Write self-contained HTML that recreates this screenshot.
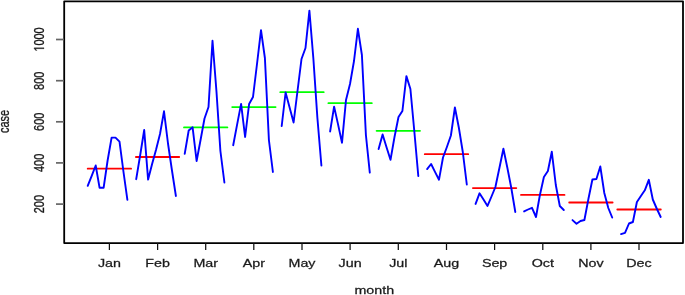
<!DOCTYPE html>
<html><head><meta charset="utf-8"><style>
html,body{margin:0;padding:0;background:#fff;}
svg{display:block;filter:blur(0.4px);}
text{font-family:"Liberation Sans",sans-serif;font-size:11px;fill:#1a1a1a;stroke:#1a1a1a;stroke-width:0.25px;}
</style></head><body>
<svg width="685" height="295" viewBox="0 0 685 295">
<rect x="0" y="0" width="685" height="295" fill="#fff"/>
<line x1="87.7" y1="168.7" x2="131.1" y2="168.7" stroke="#ff0000" stroke-width="1.8" stroke-linecap="round"/>
<line x1="135.9" y1="157" x2="179.2" y2="157" stroke="#ff0000" stroke-width="1.8" stroke-linecap="round"/>
<line x1="184.0" y1="127.4" x2="227.4" y2="127.4" stroke="#00ff00" stroke-width="1.8" stroke-linecap="round"/>
<line x1="232.2" y1="107.1" x2="275.6" y2="107.1" stroke="#00ff00" stroke-width="1.8" stroke-linecap="round"/>
<line x1="280.3" y1="92.2" x2="323.7" y2="92.2" stroke="#00ff00" stroke-width="1.8" stroke-linecap="round"/>
<line x1="328.4" y1="103.2" x2="371.8" y2="103.2" stroke="#00ff00" stroke-width="1.8" stroke-linecap="round"/>
<line x1="376.6" y1="130.8" x2="420.0" y2="130.8" stroke="#00ff00" stroke-width="1.8" stroke-linecap="round"/>
<line x1="424.8" y1="154.2" x2="468.2" y2="154.2" stroke="#ff0000" stroke-width="1.8" stroke-linecap="round"/>
<line x1="472.9" y1="188.1" x2="516.3" y2="188.1" stroke="#ff0000" stroke-width="1.8" stroke-linecap="round"/>
<line x1="521.0" y1="194.9" x2="564.5" y2="194.9" stroke="#ff0000" stroke-width="1.8" stroke-linecap="round"/>
<line x1="569.2" y1="202.5" x2="612.6" y2="202.5" stroke="#ff0000" stroke-width="1.8" stroke-linecap="round"/>
<line x1="617.3" y1="209.5" x2="660.8" y2="209.5" stroke="#ff0000" stroke-width="1.8" stroke-linecap="round"/>
<polyline points="87.7,185.8 91.7,175.8 95.7,165.5 99.6,187.8 103.6,187.8 107.6,160.5 111.6,137.6 115.5,137.6 119.5,141.6 123.5,172 127.4,199.8" fill="none" stroke="#0000ff" stroke-width="1.9" stroke-linejoin="round" stroke-linecap="round"/>
<polyline points="136.2,179.2 140.2,155 144.2,130 148.1,179.6 152.1,164 156.1,149.5 160.0,134 164.0,111.3 168.0,143.5 171.9,170 175.9,196" fill="none" stroke="#0000ff" stroke-width="1.9" stroke-linejoin="round" stroke-linecap="round"/>
<polyline points="184.7,153.8 188.7,130.5 192.6,127.3 196.6,161 200.6,139.7 204.5,118.5 208.5,107 212.5,40.7 216.5,92 220.4,151 224.4,182.5" fill="none" stroke="#0000ff" stroke-width="1.9" stroke-linejoin="round" stroke-linecap="round"/>
<polyline points="233.2,145.2 237.1,124.6 241.1,103.9 245.1,137 249.1,104 253.0,97 257.0,64 261.0,30.1 264.9,58 268.9,140 272.9,172" fill="none" stroke="#0000ff" stroke-width="1.9" stroke-linejoin="round" stroke-linecap="round"/>
<polyline points="281.7,126 285.6,92.5 289.6,107.5 293.6,122.5 297.5,91 301.5,59 305.5,48 309.4,10.7 313.4,59 317.4,118 321.4,165.5" fill="none" stroke="#0000ff" stroke-width="1.9" stroke-linejoin="round" stroke-linecap="round"/>
<polyline points="330.1,131.5 334.1,106.6 338.1,124.6 342.0,142.7 346.0,100 350.0,84 354.0,61 357.9,28.8 361.9,55 365.9,135 369.8,172.6" fill="none" stroke="#0000ff" stroke-width="1.9" stroke-linejoin="round" stroke-linecap="round"/>
<polyline points="378.6,149.1 382.6,134.5 386.6,147.5 390.5,159.8 394.5,137 398.5,117 402.4,111 406.4,76.1 410.4,89 414.3,131 418.3,176" fill="none" stroke="#0000ff" stroke-width="1.9" stroke-linejoin="round" stroke-linecap="round"/>
<polyline points="427.1,169.1 431.1,164 435.0,171.8 439.0,179.7 443.0,157.5 446.9,147 450.9,135.5 454.9,107.5 458.9,128 462.8,152 466.8,184.5" fill="none" stroke="#0000ff" stroke-width="1.9" stroke-linejoin="round" stroke-linecap="round"/>
<polyline points="475.6,203.9 479.5,193.3 483.5,199.6 487.5,205.9 491.5,196.5 495.4,187 499.4,168 503.4,148.8 507.3,167.5 511.3,188 515.3,212" fill="none" stroke="#0000ff" stroke-width="1.9" stroke-linejoin="round" stroke-linecap="round"/>
<polyline points="524.1,211.4 528.0,209.5 532.0,207.8 536.0,217 539.9,195 543.9,177 547.9,171 551.8,151.8 555.8,185 559.8,206 563.8,210" fill="none" stroke="#0000ff" stroke-width="1.9" stroke-linejoin="round" stroke-linecap="round"/>
<polyline points="572.5,220.1 576.5,223.7 580.5,221 584.4,220 588.4,199 592.4,179.5 596.4,179 600.3,166.5 604.3,193 608.3,208 612.2,217.5" fill="none" stroke="#0000ff" stroke-width="1.9" stroke-linejoin="round" stroke-linecap="round"/>
<polyline points="621.0,234.1 625.0,232.9 629.0,223.5 632.9,222 636.9,202 640.9,196 644.8,190.3 648.8,179.8 652.8,199.5 656.7,208.5 660.7,217" fill="none" stroke="#0000ff" stroke-width="1.9" stroke-linejoin="round" stroke-linecap="round"/>
<path d="M64.2,243.1 V1.35 H683 V243.1 Z" fill="none" stroke="#000" stroke-width="1.8" stroke-linejoin="round"/>
<line x1="109.4" y1="243" x2="109.4" y2="250" stroke="#111" stroke-width="1.25"/>
<text transform="translate(109.4,267.3) scale(1.3,1)" text-anchor="middle">Jan</text>
<line x1="157.6" y1="243" x2="157.6" y2="250" stroke="#111" stroke-width="1.25"/>
<text transform="translate(157.6,267.3) scale(1.3,1)" text-anchor="middle">Feb</text>
<line x1="205.7" y1="243" x2="205.7" y2="250" stroke="#111" stroke-width="1.25"/>
<text transform="translate(205.7,267.3) scale(1.3,1)" text-anchor="middle">Mar</text>
<line x1="253.8" y1="243" x2="253.8" y2="250" stroke="#111" stroke-width="1.25"/>
<text transform="translate(253.8,267.3) scale(1.3,1)" text-anchor="middle">Apr</text>
<line x1="302.0" y1="243" x2="302.0" y2="250" stroke="#111" stroke-width="1.25"/>
<text transform="translate(302.0,267.3) scale(1.3,1)" text-anchor="middle">May</text>
<line x1="350.1" y1="243" x2="350.1" y2="250" stroke="#111" stroke-width="1.25"/>
<text transform="translate(350.1,267.3) scale(1.3,1)" text-anchor="middle">Jun</text>
<line x1="398.3" y1="243" x2="398.3" y2="250" stroke="#111" stroke-width="1.25"/>
<text transform="translate(398.3,267.3) scale(1.3,1)" text-anchor="middle">Jul</text>
<line x1="446.5" y1="243" x2="446.5" y2="250" stroke="#111" stroke-width="1.25"/>
<text transform="translate(446.5,267.3) scale(1.3,1)" text-anchor="middle">Aug</text>
<line x1="494.6" y1="243" x2="494.6" y2="250" stroke="#111" stroke-width="1.25"/>
<text transform="translate(494.6,267.3) scale(1.3,1)" text-anchor="middle">Sep</text>
<line x1="542.8" y1="243" x2="542.8" y2="250" stroke="#111" stroke-width="1.25"/>
<text transform="translate(542.8,267.3) scale(1.3,1)" text-anchor="middle">Oct</text>
<line x1="590.9" y1="243" x2="590.9" y2="250" stroke="#111" stroke-width="1.25"/>
<text transform="translate(590.9,267.3) scale(1.3,1)" text-anchor="middle">Nov</text>
<line x1="639.0" y1="243" x2="639.0" y2="250" stroke="#111" stroke-width="1.25"/>
<text transform="translate(639.0,267.3) scale(1.3,1)" text-anchor="middle">Dec</text>
<line x1="56" y1="204.1" x2="64" y2="204.1" stroke="#666" stroke-width="1.7"/>
<text transform="translate(44,204.1) scale(1.3,1) rotate(-90)" text-anchor="middle">200</text>
<line x1="56" y1="162.9" x2="64" y2="162.9" stroke="#666" stroke-width="1.7"/>
<text transform="translate(44,162.9) scale(1.3,1) rotate(-90)" text-anchor="middle">400</text>
<line x1="56" y1="121.8" x2="64" y2="121.8" stroke="#666" stroke-width="1.7"/>
<text transform="translate(44,121.8) scale(1.3,1) rotate(-90)" text-anchor="middle">600</text>
<line x1="56" y1="80.7" x2="64" y2="80.7" stroke="#666" stroke-width="1.7"/>
<text transform="translate(44,80.7) scale(1.3,1) rotate(-90)" text-anchor="middle">800</text>
<line x1="56" y1="39.5" x2="64" y2="39.5" stroke="#666" stroke-width="1.7"/>
<g transform="translate(44,39.5) scale(1.3,1) rotate(-90)"><text text-anchor="middle"><tspan style="fill:none;stroke:none">1</tspan>000</text><path transform="translate(-12.235,0) scale(0.005371,-0.005371)" d="M560,0 L560,1237 L230,1010 L230,1180 L575,1409 L741,1409 L741,0 Z" fill="#1a1a1a" stroke="#1a1a1a" stroke-width="46.5"/></g>
<text transform="translate(9.3,121.4) scale(1.3,1) rotate(-90)" text-anchor="middle">case</text>
<text transform="translate(374.3,293.8) scale(1.3,1)" text-anchor="middle">month</text>
</svg>
</body></html>
